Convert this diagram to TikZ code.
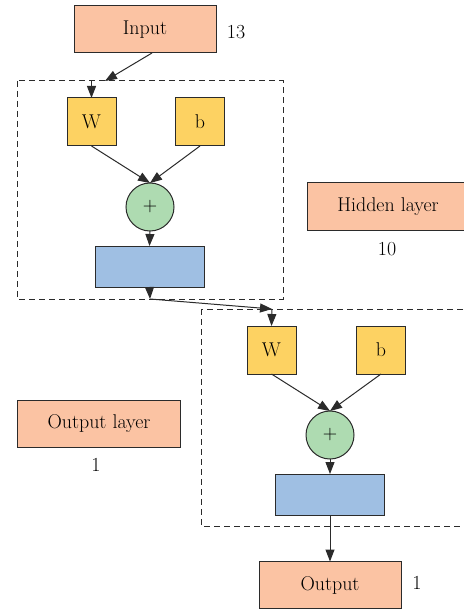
\documentclass[tikz,border=0pt]{standalone}
\usetikzlibrary{arrows.meta}
\definecolor{peach}{HTML}{FBC3A3}
\definecolor{ylw}{HTML}{FDD262}
\definecolor{grn}{HTML}{AEDBB1}
\definecolor{blu}{HTML}{9FBFE3}
\definecolor{edge}{HTML}{2B2B2B}
\tikzset{
  box/.style={draw=edge, line width=1bp, inner sep=0pt, outer sep=0pt, font=\fontsize{20}{23}\selectfont},
  peachbox/.style={box, fill=peach, minimum width=142bp, minimum height=47bp},
  sqbox/.style={box, fill=ylw, minimum width=49bp, minimum height=48bp},
  sumnode/.style={box, fill=grn, circle, minimum size=48bp},
  actbox/.style={box, fill=blu, minimum width=109bp, minimum height=41bp},
  frame/.style={draw=edge, line width=1bp, dash pattern=on 6bp off 4bp},
  arr/.style={draw=edge, line width=1bp, -{Triangle[length=12bp,width=9bp]}},
  lbl/.style={font=\fontsize{20}{23}\selectfont, inner sep=0pt}
}
\begin{document}
\begin{tikzpicture}[x=1bp,y=-1bp]
\clip (0,0) rectangle (464,610);
\fill[white] (0,0) rectangle (464,610);
% frames
\draw[frame] (17,81) rectangle (283,299);
\draw[frame] (201,309) rectangle (480,526);
% nodes
\node[peachbox] (input) at (145,29.5) {Input};
\node[lbl] (n13) at (236,32) {13};
\node[sqbox] (w1) at (91.5,122) {W};
\node[sqbox] (b1) at (200,122) {b};
\node[sumnode] (s1) at (150,207) {+};
\node[actbox] (a1) at (149.5,266.5) {};
\node[peachbox, minimum width=162bp] (hid) at (388,206.5) {Hidden layer};
\node[lbl] (n10) at (387,249) {10};
\node[peachbox, minimum width=162bp] (outl) at (99,424) {Output layer};
\node[lbl] (n1a) at (96,465) {1};
\node[sqbox] (w2) at (271.5,350) {W};
\node[sqbox] (b2) at (381,350) {b};
\node[sumnode] (s2) at (330,435) {+};
\node[actbox] (a2) at (330,494.5) {};
\node[peachbox] (out) at (330,585) {Output};
\node[lbl] (n1b) at (417,583) {1};
% connector coordinates on frames
\coordinate (f1in) at (105,81);
\coordinate (f1top) at (91.5,81);
\coordinate (f1out) at (150,299);
\coordinate (f2in) at (272,309);
% connectors
\draw[arr] (input.south) ++(7,0) -- (f1in);
\draw[arr] (f1top) -- (w1.north);
\draw[arr] (w1.south) -- (s1.north);
\draw[arr] (b1.south) -- (s1.north);
\draw[arr] (s1.south) -- (a1.north);
\draw[arr] (a1.south) -- (f1out);
\draw[arr] (f1out) -- (f2in);
\draw[arr] (f2in) -- (w2.north);
\draw[arr] (w2.south) -- (s2.north);
\draw[arr] (b2.south) -- (s2.north);
\draw[arr] (s2.south) -- (a2.north);
\draw[arr] (a2.south) -- (out.north);
\end{tikzpicture}
\end{document}
